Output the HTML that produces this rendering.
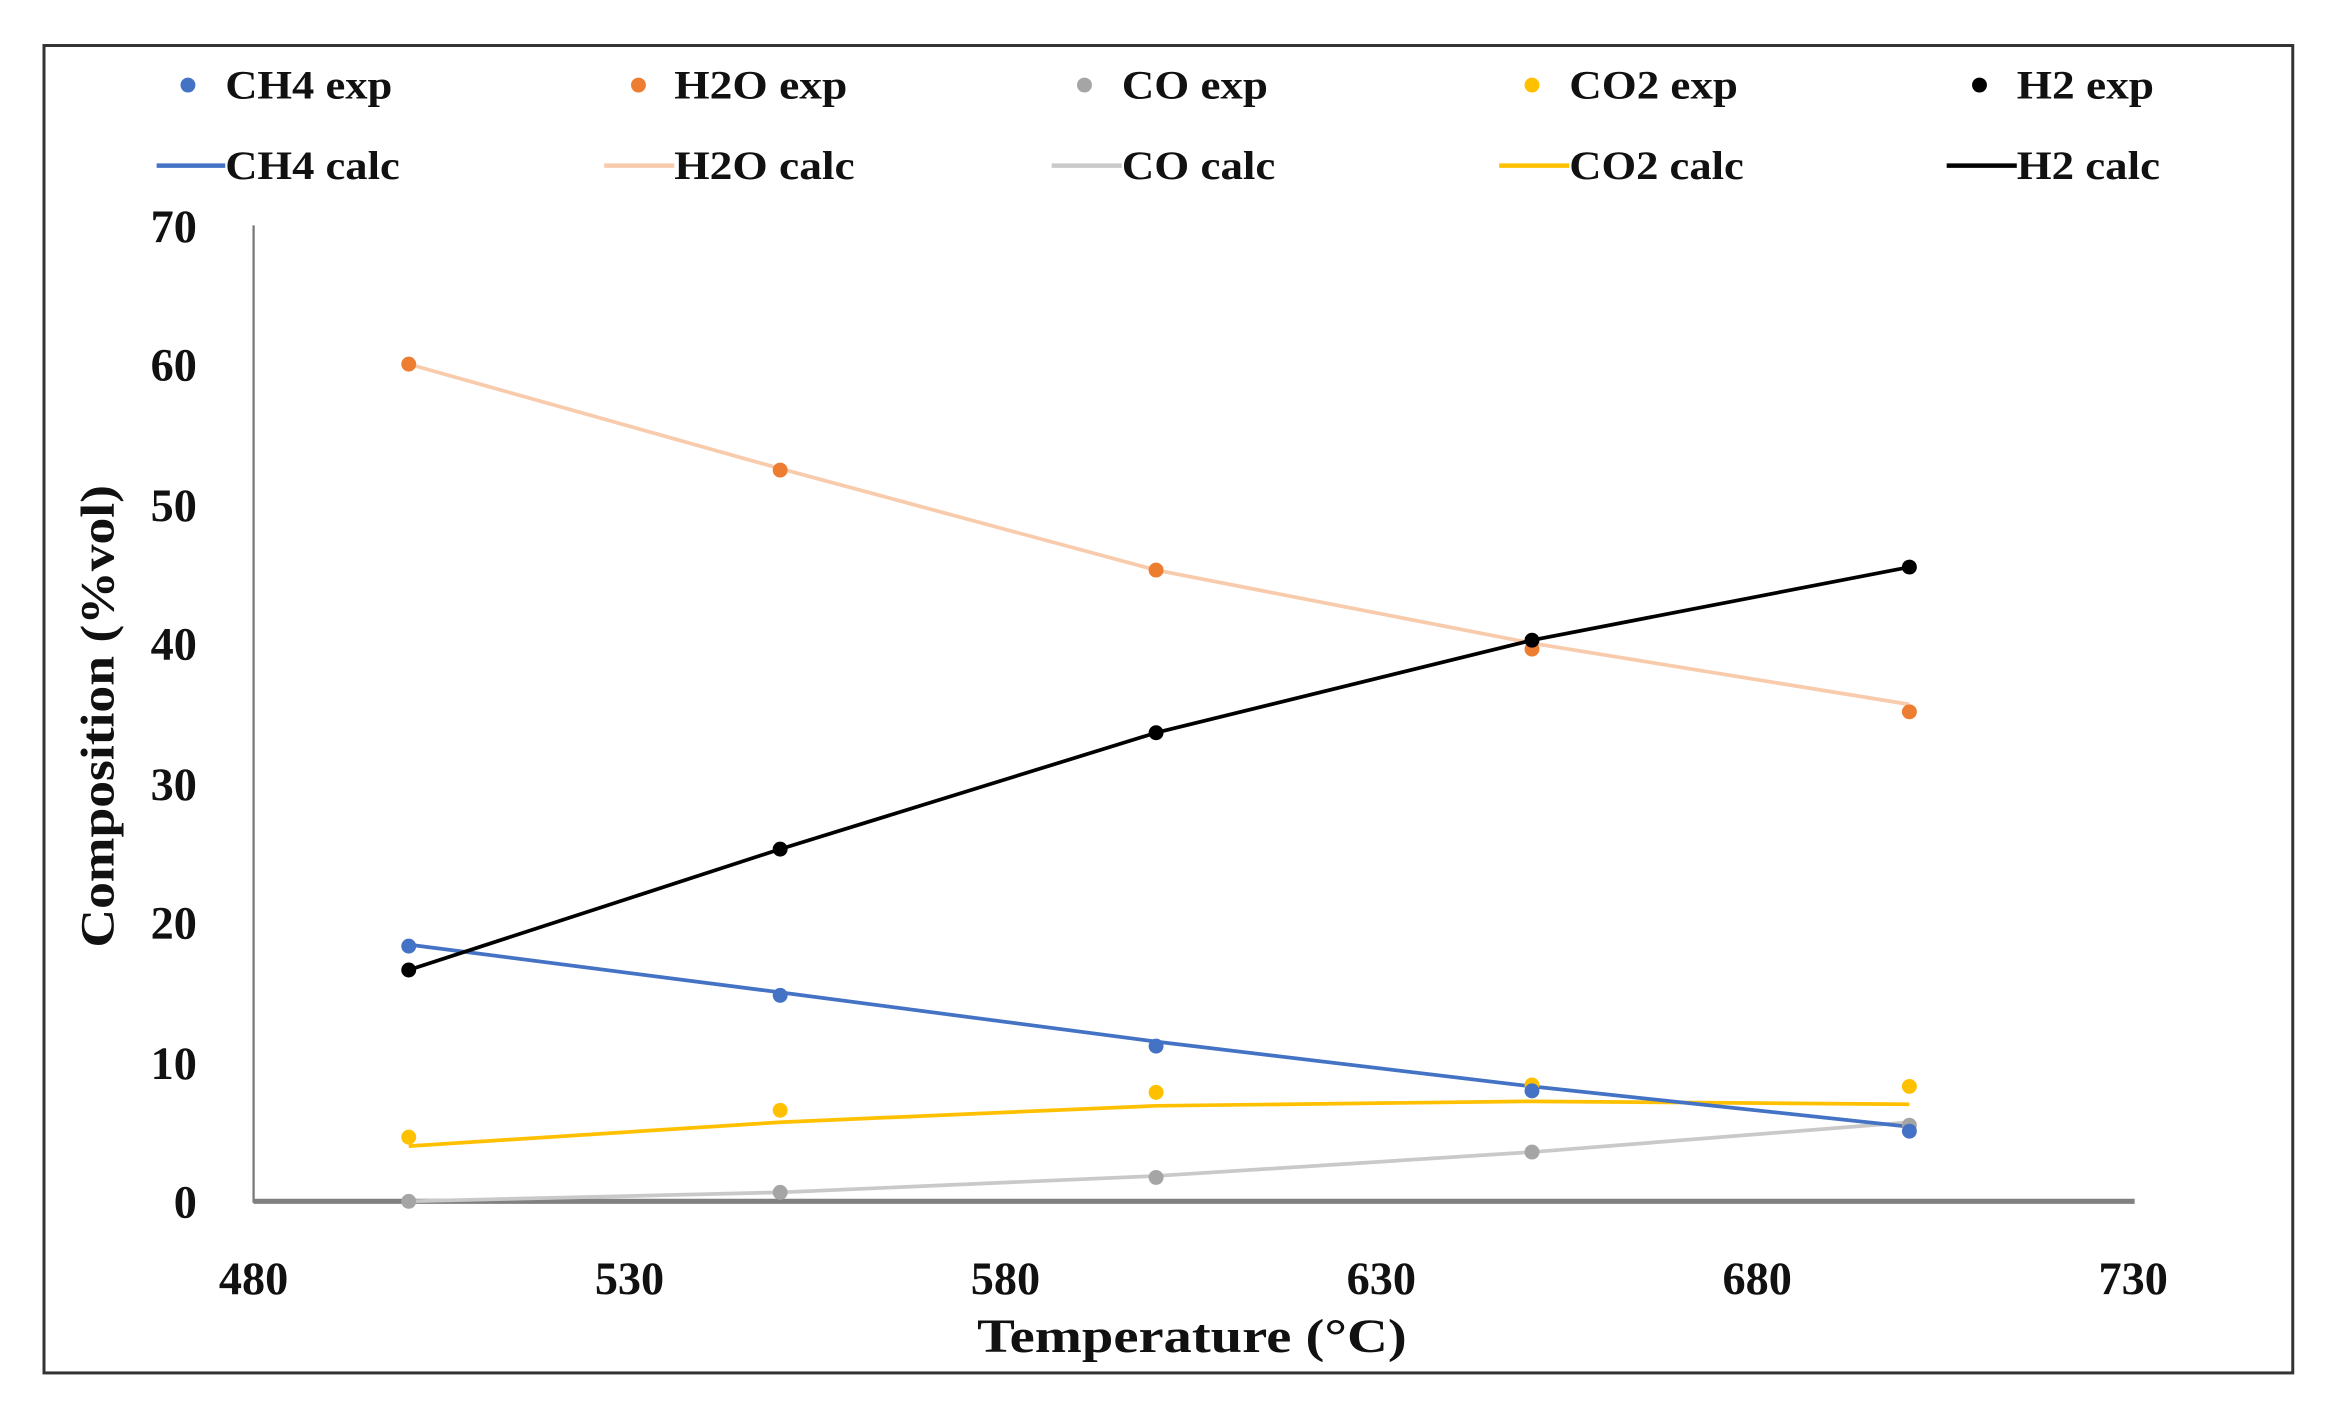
<!DOCTYPE html>
<html><head><meta charset="utf-8"><style>html,body{margin:0;padding:0;background:#fff}svg{display:block}</style></head>
<body>
<svg width="2339" height="1408" viewBox="0 0 1568 943.5" preserveAspectRatio="none" xmlns="http://www.w3.org/2000/svg" font-family="'Liberation Serif', serif" font-weight="bold" fill="#111">
<rect x="0" y="0" width="1568" height="943.5" fill="#fff"/>
<rect x="29.5" y="30.5" width="1507.5" height="889.5" fill="none" stroke="#333" stroke-width="2"/>
<g font-size="27">
<circle cx="126" cy="57" r="5" fill="#4472C4"/><text x="151" y="66" textLength="112" lengthAdjust="spacingAndGlyphs">CH4 exp</text>
<circle cx="428" cy="57" r="5" fill="#ED7D31"/><text x="452" y="66" textLength="116" lengthAdjust="spacingAndGlyphs">H2O exp</text>
<circle cx="727" cy="57" r="5" fill="#A5A5A5"/><text x="752" y="66" textLength="98" lengthAdjust="spacingAndGlyphs">CO exp</text>
<circle cx="1027" cy="57" r="5" fill="#FFC000"/><text x="1052" y="66" textLength="113" lengthAdjust="spacingAndGlyphs">CO2 exp</text>
<circle cx="1327" cy="57" r="5" fill="#000"/><text x="1352" y="66" textLength="92" lengthAdjust="spacingAndGlyphs">H2 exp</text>
<line x1="105" y1="111" x2="151" y2="111" stroke="#4472C4" stroke-width="3"/><text x="151" y="120" textLength="117" lengthAdjust="spacingAndGlyphs">CH4 calc</text>
<line x1="405" y1="111" x2="452" y2="111" stroke="#F8CBAD" stroke-width="3"/><text x="452" y="120" textLength="121" lengthAdjust="spacingAndGlyphs">H2O calc</text>
<line x1="705" y1="111" x2="752" y2="111" stroke="#C9C9C9" stroke-width="3"/><text x="752" y="120" textLength="103" lengthAdjust="spacingAndGlyphs">CO calc</text>
<line x1="1005" y1="111" x2="1052" y2="111" stroke="#FFC000" stroke-width="3"/><text x="1052" y="120" textLength="117" lengthAdjust="spacingAndGlyphs">CO2 calc</text>
<line x1="1305" y1="111" x2="1352" y2="111" stroke="#000" stroke-width="3"/><text x="1352" y="120" textLength="96" lengthAdjust="spacingAndGlyphs">H2 calc</text>
</g>
<line x1="170" y1="151" x2="170" y2="806" stroke="#777" stroke-width="1.5"/>
<line x1="170" y1="805" x2="1431" y2="805" stroke="#808080" stroke-width="3.5"/>
<g font-size="31" text-anchor="end">
<text x="132" y="816">0</text><text x="132" y="723">10</text><text x="132" y="629">20</text><text x="132" y="536">30</text>
<text x="132" y="442">40</text><text x="132" y="349">50</text><text x="132" y="255">60</text><text x="132" y="162">70</text>
</g>
<g font-size="31" text-anchor="middle">
<text x="170" y="867">480</text><text x="422" y="867">530</text><text x="674" y="867">580</text>
<text x="926" y="867">630</text><text x="1178" y="867">680</text><text x="1430" y="867">730</text>
</g>
<text x="799" y="906" font-size="32" text-anchor="middle" textLength="288" lengthAdjust="spacingAndGlyphs">Temperature (°C)</text>
<text transform="translate(76,480) rotate(-90)" font-size="32" text-anchor="middle" textLength="310" lengthAdjust="spacingAndGlyphs">Composition (%vol)</text>
<g fill="none" stroke-width="2.5" stroke-linejoin="round">
<polyline stroke="#F8CBAD" points="274,244 523,314 775,382 1027,431 1280,472"/>
<polyline stroke="#C9C9C9" points="274,805 523,799 775,788 1027,772 1280,752"/>
<polyline stroke="#FFC000" points="274,768 523,752 775,741 1027,738 1280,740"/>
<polyline stroke="#4472C4" points="274,633 523,665 775,698 1027,728 1280,755"/>
<polyline stroke="#000" points="274,650 523,569 775,491 1027,429 1280,380"/>
</g>
<g fill="#ED7D31"><circle cx="274" cy="244" r="5"/><circle cx="523" cy="315" r="5"/><circle cx="775" cy="382" r="5"/><circle cx="1027" cy="435" r="5"/><circle cx="1280" cy="477" r="5"/></g>
<g fill="#A5A5A5"><circle cx="274" cy="805" r="5"/><circle cx="523" cy="799" r="5"/><circle cx="775" cy="789" r="5"/><circle cx="1027" cy="772" r="5"/><circle cx="1280" cy="754" r="5"/></g>
<g fill="#FFC000"><circle cx="274" cy="762" r="5"/><circle cx="523" cy="744" r="5"/><circle cx="775" cy="732" r="5"/><circle cx="1027" cy="727" r="5"/><circle cx="1280" cy="728" r="5"/></g>
<g fill="#4472C4"><circle cx="274" cy="634" r="5"/><circle cx="523" cy="667" r="5"/><circle cx="775" cy="701" r="5"/><circle cx="1027" cy="731" r="5"/><circle cx="1280" cy="758" r="5"/></g>
<g fill="#000"><circle cx="274" cy="650" r="5"/><circle cx="523" cy="569" r="5"/><circle cx="775" cy="491" r="5"/><circle cx="1027" cy="429" r="5"/><circle cx="1280" cy="380" r="5"/></g>
</svg>
</body></html>
